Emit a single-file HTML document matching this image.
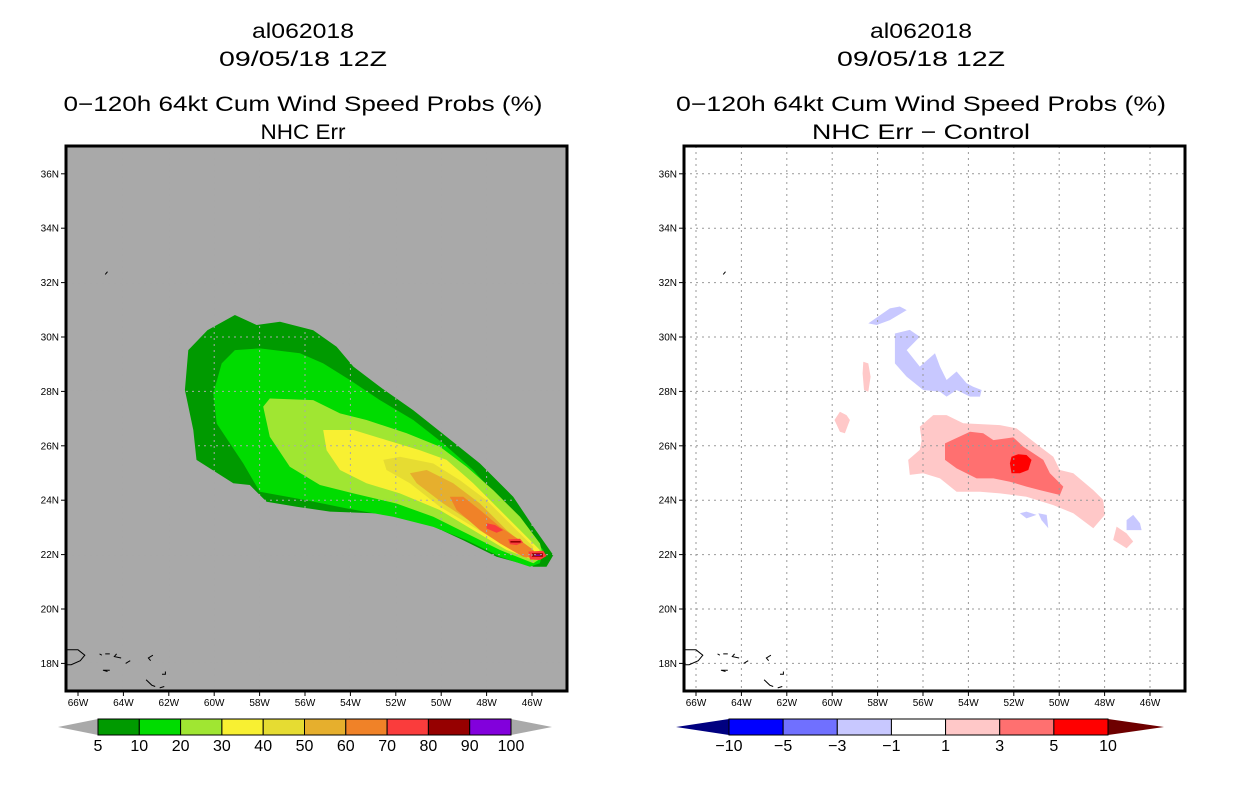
<!DOCTYPE html>
<html><head><meta charset="utf-8"><style>
body{margin:0;background:#fff;}
svg{display:block;font-family:"Liberation Sans",sans-serif;}
</style></head><body>
<svg id="c" width="1236" height="800" viewBox="0 0 1236 800"></svg>
<script>
// ---- data ----
const lonTicks=[-66,-64,-62,-60,-58,-56,-54,-52,-50,-48,-46];
const latTicks=[18,20,22,24,26,28,30,32,34,36];
const leftLevels=["5","10","20","30","40","50","60","70","80","90","100"];
const leftColors=["#009a00","#00dc00","#a0e632","#f8f032","#e6dc32","#e6af2d","#f08228","#fa3c3c","#960000","#8200dc"];
const rightLevels=["-10","-5","-3","-1","1","3","5","10"];
const rightColors=["#0000ff","#7070ff","#c8c8ff","#ffffff","#ffc8c8","#ff7070","#ff0000"];
const p5=[[-59.09,30.81],[-58.13,30.44],[-57.10,30.56],[-55.64,30.25],[-54.61,29.64],[-53.87,28.91],[-52.70,28.17],[-51.23,27.31],[-49.76,26.33],[-48.29,25.35],[-46.83,24.13],[-45.94,23.02],[-45.06,21.98],[-45.36,21.55],[-45.94,21.55],[-47.56,21.92],[-49.03,22.53],[-50.94,23.27],[-52.70,23.51],[-54.90,23.58],[-56.37,23.76],[-57.69,23.94],[-58.43,24.56],[-59.16,24.62],[-60.78,25.48],[-60.92,26.58],[-61.29,28.05],[-61.14,29.52],[-60.30,30.25]];
const p10=[[-59.09,29.52],[-57.99,29.58],[-56.22,29.40],[-55.20,29.03],[-54.02,28.42],[-52.70,27.68],[-51.23,26.95],[-49.91,26.09],[-48.59,25.11],[-47.41,24.00],[-46.24,22.90],[-45.50,22.17],[-45.65,21.68],[-46.09,21.55],[-47.41,21.92],[-48.88,22.53],[-50.35,23.02],[-52.11,23.39],[-54.17,23.70],[-55.93,24.00],[-57.99,24.31],[-58.72,25.35],[-59.89,26.82],[-60.04,27.93],[-59.67,29.03]];
const p20=[[-57.55,27.74],[-55.64,27.68],[-54.46,27.19],[-53.29,26.95],[-51.52,26.46],[-50.06,25.97],[-48.88,25.23],[-47.71,24.37],[-46.53,23.39],[-45.65,22.41],[-45.50,21.92],[-45.94,21.68],[-47.41,22.17],[-48.88,22.78],[-50.35,23.39],[-51.97,23.88],[-53.87,24.25],[-55.34,24.56],[-56.67,25.23],[-57.55,26.33],[-57.84,27.44]];
const p30=[[-55.20,26.58],[-53.87,26.58],[-52.41,26.21],[-50.94,25.84],[-49.76,25.48],[-48.59,24.62],[-47.56,23.76],[-46.53,22.90],[-45.65,22.17],[-45.94,21.80],[-47.12,22.17],[-48.59,22.90],[-50.06,23.64],[-51.82,24.25],[-53.29,24.62],[-54.46,25.11],[-55.05,25.84]];
const p40=[[-52.55,25.48],[-51.82,25.60],[-50.35,25.35],[-49.18,24.74],[-48.00,24.00],[-46.83,23.02],[-45.94,22.29],[-46.09,21.86],[-47.12,22.29],[-48.59,23.02],[-50.06,23.76],[-51.38,24.62],[-52.41,25.11]];
const p50=[[-51.38,24.99],[-50.64,25.11],[-49.47,24.62],[-48.29,23.88],[-47.12,22.90],[-46.09,22.17],[-46.24,21.86],[-47.41,22.41],[-48.59,23.15],[-49.91,23.88],[-51.08,24.62]];
const p60=[[-49.62,24.13],[-49.03,24.13],[-48.29,23.64],[-47.41,23.02],[-46.53,22.53],[-45.94,22.17],[-45.80,21.86],[-46.39,21.92],[-47.41,22.41],[-48.29,22.90],[-49.32,23.64]];
const p70a=[[-48.00,23.15],[-47.63,23.09],[-47.27,22.90],[-47.56,22.80],[-48.00,22.96]];
const p70b=[[-47.05,22.56],[-46.53,22.58],[-46.39,22.45],[-46.68,22.35],[-46.97,22.38]];
const p70c=[[-46.16,22.11],[-45.50,22.14],[-45.36,21.95],[-45.65,21.80],[-46.09,21.82]];
const p80a=[[-46.95,22.50],[-46.50,22.50],[-46.50,22.44],[-46.95,22.44]];
const p80b=[[-46.00,22.05],[-45.52,22.05],[-45.52,21.92],[-46.00,21.92]];
const p90=[[-45.90,22.00],[-45.62,22.00],[-45.62,21.96],[-45.90,21.96]];
const dPink=[[-56.14,26.70],[-55.55,27.13],[-54.96,27.13],[-54.23,26.83],[-52.61,26.76],[-51.88,26.64],[-50.85,25.97],[-50.26,25.60],[-49.97,25.11],[-49.38,24.99],[-48.50,24.37],[-48.06,24.01],[-47.99,23.46],[-48.50,22.97],[-49.38,23.52],[-50.26,23.82],[-51.44,24.13],[-52.61,24.25],[-53.49,24.31],[-54.52,24.31],[-55.25,24.80],[-55.99,24.99],[-56.58,24.93],[-56.65,25.48],[-56.14,25.85],[-56.06,26.21]];
const dRed3=[[-55.03,26.09],[-53.93,26.52],[-53.35,26.46],[-52.90,26.21],[-52.02,26.31],[-51.58,25.97],[-50.70,25.48],[-50.41,24.99],[-49.82,24.50],[-49.97,24.19],[-50.85,24.37],[-51.44,24.50],[-52.17,24.68],[-52.90,24.80],[-53.64,24.80],[-54.52,25.17],[-55.03,25.48]];
const dRed5=[[-52.10,25.60],[-51.80,25.69],[-51.44,25.66],[-51.22,25.48],[-51.36,25.11],[-51.73,24.99],[-52.10,24.99],[-52.17,25.36]];
const dPinkB=[[-58.63,29.09],[-58.41,29.03],[-58.31,28.54],[-58.41,27.99],[-58.60,28.05],[-58.66,28.66]];
const dPinkC=[[-59.90,26.95],[-59.66,27.25],[-59.37,27.13],[-59.22,26.95],[-59.44,26.46],[-59.66,26.52]];
const dPinkD=[[-47.47,23.03],[-47.03,22.78],[-46.74,22.48],[-47.03,22.23],[-47.62,22.54]];
const dBlueA=[[-57.24,30.13],[-56.58,30.26],[-56.14,30.01],[-56.72,29.52],[-56.14,28.91],[-55.47,29.40],[-55.25,28.91],[-54.96,28.42],[-54.52,28.73],[-54.08,28.30],[-53.79,28.17],[-53.42,28.05],[-53.49,27.81],[-53.93,27.81],[-54.52,28.05],[-54.96,27.81],[-55.25,27.99],[-55.99,28.05],[-56.72,28.54],[-57.24,29.03]];
const dBlueB=[[-58.41,30.50],[-57.46,31.05],[-57.02,31.12],[-56.72,30.99],[-57.46,30.62],[-58.04,30.44]];
const dBlueC=[[-47.03,23.27],[-46.74,23.46],[-46.44,23.15],[-46.37,22.90],[-47.03,22.90]];
const dBlueD=[[-51.73,23.52],[-51.44,23.58],[-51.00,23.46],[-51.44,23.33]];
const dBlueE=[[-50.92,23.52],[-50.55,23.46],[-50.48,22.97],[-50.78,23.27]];

// ---- drawing ----
const NS="http://www.w3.org/2000/svg";
const svg=document.getElementById('c');
function mk(t,a,parent){const e=document.createElementNS(NS,t);for(const k in a)e.setAttribute(k,a[k]);(parent||svg).appendChild(e);return e;}
const PX=22.7, PY=27.2;
function xS(off,lon){return off+78+(lon+66)*PX;}
function yS(lat){return 337-(lat-30)*PY;}
function poly(off,pts,fill,name,g){const d=pts.map(p=>xS(off,p[0]).toFixed(1)+','+yS(p[1]).toFixed(1)).join(' ');
 const e=mk('polygon',{points:d,fill:fill},g);
 
 }

function panel(off,bg,titles,widths,name){
 const g=mk('g',{});
 
 
 const cx=off+303;
 const ty=[38,66,111,139];
 titles.forEach((t,i)=>{const e=mk('text',{x:cx,y:ty[i],'font-size':21,'text-anchor':'middle',fill:'#000',textLength:widths[i],lengthAdjust:'spacingAndGlyphs'},g);e.textContent=t;
  
  });
 const clip=mk('clipPath',{id:'clip'+off},g);mk('rect',{x:off+67,y:147,width:499,height:543},clip);
 const bgR=mk('rect',{x:off+66,y:146,width:501,height:545,fill:bg},g);
 
 
 const m=mk('g',{'clip-path':'url(#clip'+off+')'},g);
 return {g,m};
}
function grid(off,m,col){
 lonTicks.forEach(l=>{mk('line',{x1:xS(off,l),x2:xS(off,l),y1:146,y2:691,stroke:col,'stroke-width':1,'stroke-dasharray':'2,4'},m);});
 latTicks.forEach(l=>{mk('line',{x1:off+66,x2:off+567,y1:yS(l),y2:yS(l),stroke:col,'stroke-width':1,'stroke-dasharray':'2,4'},m);});
}
function coast(off,m){
 const c=[[[-66.6,18.5],[-66.0,18.5],[-65.7,18.3],[-65.9,18.1],[-66.3,17.95],[-66.6,17.95]],[[-64.8,18.35],[-64.6,18.35]],[[-65.05,18.35],[-64.95,18.3]],[[-64.1,18.2],[-64.4,18.25],[-64.3,18.35]],[[-63.9,18.0],[-63.7,18.1]],[[-64.7,17.7],[-64.9,17.75],[-64.6,17.75]],[[-62.8,18.1],[-62.9,18.2],[-62.7,18.3]],[[-62.3,17.6],[-62.15,17.6],[-62.15,17.7]],[[-63.0,17.4],[-62.75,17.2],[-62.6,17.15]],[[-62.4,17.1],[-62.2,17.15]],[[-64.8,32.3],[-64.7,32.4]]];
 c.forEach(p=>{mk('polyline',{points:p.map(q=>xS(off,q[0])+','+yS(q[1])).join(' '),fill:'none',stroke:'#000','stroke-width':1},m);});
}
function axes(off,g){
 const fr=mk('rect',{x:off+66,y:146,width:501,height:545,fill:'none',stroke:'#000','stroke-width':3},g);
 
 
 lonTicks.forEach(l=>{const x=xS(off,l);mk('line',{x1:x,x2:x,y1:691,y2:696,stroke:'#000'},g);
  const t=mk('text',{x:x,y:706,'font-size':10,'text-anchor':'middle'},g);t.textContent=Math.abs(l)+'W';
  
  });
 latTicks.forEach(l=>{const y=yS(l);mk('line',{x1:off+61,x2:off+66,y1:y,y2:y,stroke:'#000'},g);
  const t=mk('text',{x:off+59,y:y+3.5,'font-size':10,'text-anchor':'end'},g);t.textContent=l+'N';
  
  });
}
function colorbar(x0,x1,tl,tr,colors,levels,lc,rc,name){
 const g=mk('g',{});
 
 
 const w=(x1-x0)/colors.length;
 mk('polygon',{points:`${tl},727 ${x0},719 ${x0},735`,fill:lc},g);
 mk('polygon',{points:`${tr},727 ${x1},719 ${x1},735`,fill:rc},g);
 colors.forEach((c,i)=>{const r=mk('rect',{x:x0+i*w,y:719,width:w,height:16,fill:c,stroke:'#000','stroke-width':1},g);
  
  });
 levels.forEach((l,i)=>{const t=mk('text',{x:x0+i*w,y:751,'font-size':16,'text-anchor':'middle'},g);t.textContent=l.replace('-','\u2212');
  
  });
}
// left panel
const L=panel(0,'#a9a9a9',['al062018','09/05/18 12Z','0\u2212120h 64kt Cum Wind Speed Probs (%)','NHC Err'],[102,168,479,85],'left-panel');
[[p5,0],[p10,1],[p20,2],[p30,3],[p40,4],[p50,5],[p60,6],[p70a,7],[p70b,7],[p70c,7],[p80a,8],[p80b,8],[p90,9]].forEach(([p,i])=>poly(0,p,leftColors[i],'prob-contour-'+leftLevels[i],L.m));
grid(0,L.m,'#a9a9a9');coast(0,L.m);axes(0,L.g);
colorbar(98,511,58,552,leftColors,leftLevels,'#a9a9a9','#a9a9a9','left-colorbar');
// right panel
const O=618;
const R=panel(O,'#ffffff',['al062018','09/05/18 12Z','0\u2212120h 64kt Cum Wind Speed Probs (%)','NHC Err \u2212 Control'],[102,168,490,218],'right-panel');
[[dPink,4],[dPinkB,4],[dPinkC,4],[dPinkD,4],[dRed3,5],[dRed5,6],[dBlueA,2],[dBlueB,2],[dBlueC,2],[dBlueD,2],[dBlueE,2]].forEach(([p,i])=>poly(O,p,rightColors[i],'diff-contour-'+rightLevels[i],R.m));
grid(O,R.m,'#999');coast(O,R.m);axes(O,R.g);
colorbar(729,1108,676,1164,rightColors,rightLevels,'#000080','#6e0000','right-colorbar');
</script>
</body></html>
